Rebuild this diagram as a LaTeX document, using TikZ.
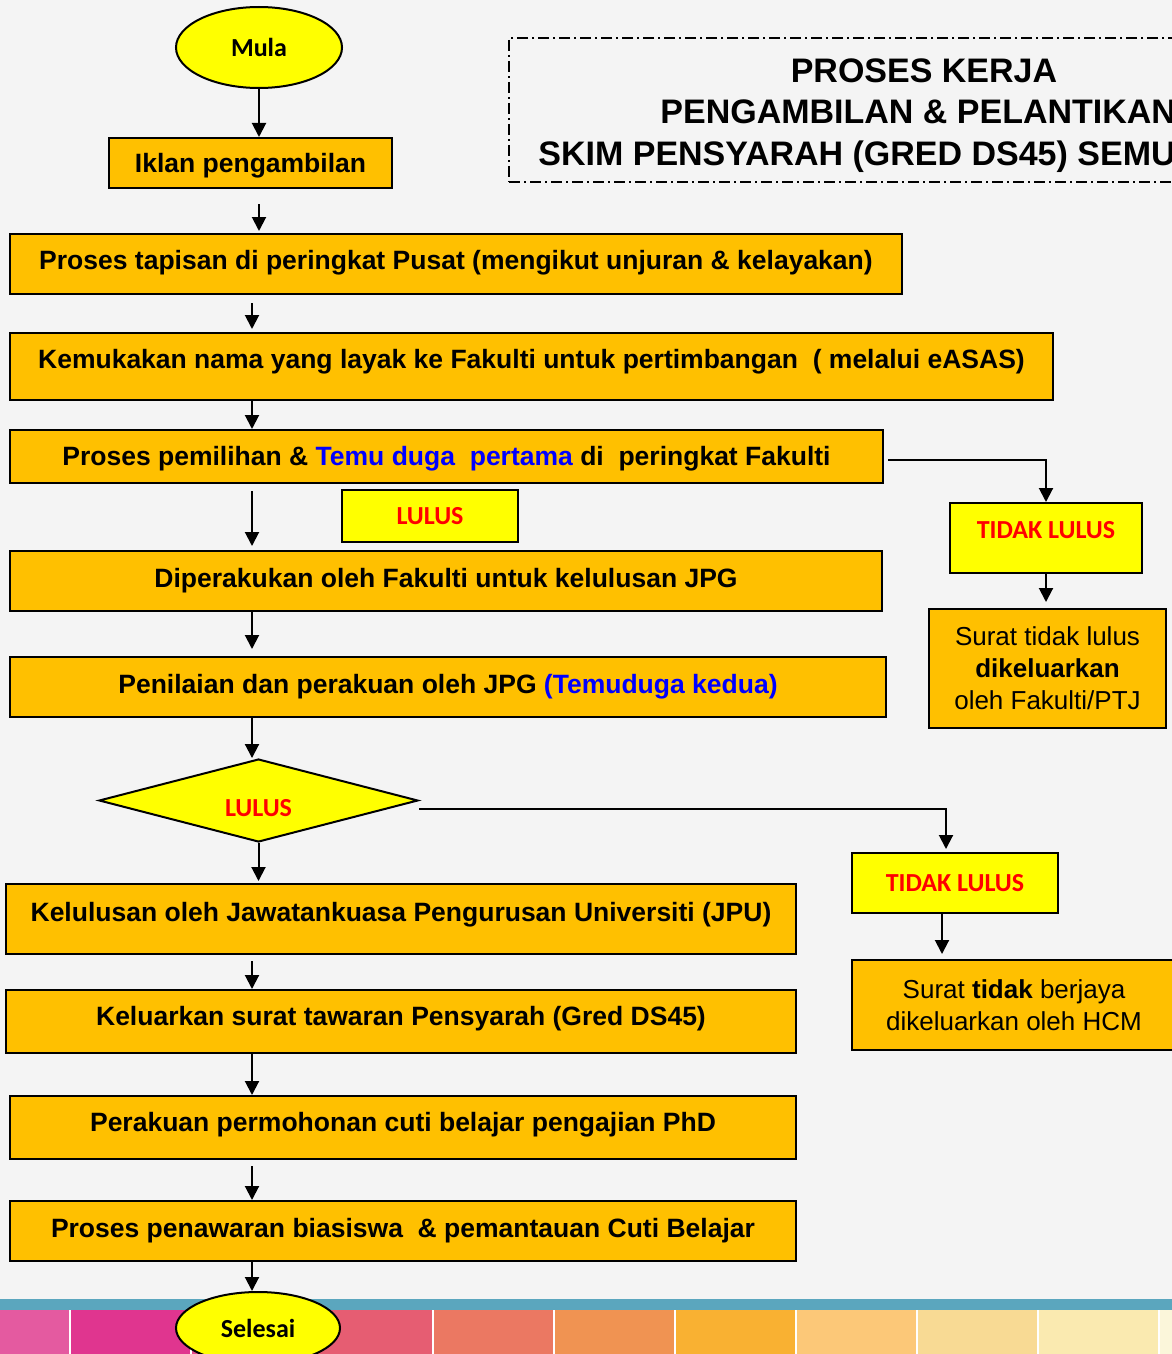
\documentclass[tikz,border=0pt]{standalone}
\usepackage{fontspec}
\setmainfont{Liberation Sans}
\newfontfamily\calfont{Carlito}
\usetikzlibrary{shapes.geometric,arrows.meta}

\definecolor{latar}{HTML}{F4F4F4}
\definecolor{oren}{HTML}{FFC000}
\definecolor{kuningc}{HTML}{FFFF00}
\definecolor{merah}{HTML}{FF0000}
\definecolor{biru}{HTML}{0000FF}
\definecolor{teal}{HTML}{5BA6BE}
\definecolor{jalurA}{HTML}{E45AA0}
\definecolor{jalurB}{HTML}{E0358F}
\definecolor{jalurC}{HTML}{E34A86}
\definecolor{jalurD}{HTML}{E65D72}
\definecolor{jalurE}{HTML}{EB7862}
\definecolor{jalurF}{HTML}{F09352}
\definecolor{jalurG}{HTML}{F9B132}
\definecolor{jalurH}{HTML}{FCC878}
\definecolor{jalurI}{HTML}{F8DA94}
\definecolor{jalurJ}{HTML}{FAEAB0}
\definecolor{jalurK}{HTML}{FBF6DA}

\tikzset{
	kotak/.style={draw, line width=1pt, fill=oren, inner sep=0pt, font=\fontsize{13.25}{15.6}\selectfont\bfseries, text height=9.4pt, text depth=3pt},
	surat/.style={draw, line width=1pt, fill=oren, inner sep=0pt, align=center, font=\fontsize{13}{16}\selectfont},
	kuning/.style={draw, line width=1pt, fill=kuningc, inner sep=0pt, text=merah, font=\calfont\bfseries\fontsize{13}{15.6}\selectfont},
	hujung/.style={ellipse, draw, line width=1pt, fill=kuningc, inner sep=0pt, font=\calfont\bfseries\fontsize{13}{15.6}\selectfont},
	putus/.style={diamond, draw, line width=1pt, fill=kuningc, inner sep=0pt, text=merah, font=\calfont\bfseries\fontsize{13}{15.6}\selectfont},
	tajuk/.style={inner sep=0pt, font=\fontsize{17}{20}\selectfont\bfseries, text height=12.2pt, text depth=0pt},
	anak/.style={-{Triangle[width=7pt,length=7pt]}, line width=1pt},
}

\begin{document}
\begin{tikzpicture}[x=0.5pt, y=-0.5pt]
	\useasboundingbox (0, 0) rectangle (1172, 1354);
	\clip (0, 0) rectangle (1172, 1354);
	\fill[latar] (0, 0) rectangle (1172, 1354);

	% jalur warna di bawah
	\fill[teal] (0, 1299) rectangle (1172, 1310);
	\fill[white] (0, 1310) rectangle (1172, 1354);
	\fill[jalurA] (0, 1310) rectangle (69, 1354);
	\fill[jalurB] (71, 1310) rectangle (190, 1354);
	\fill[jalurC] (192, 1310) rectangle (311, 1354);
	\fill[jalurD] (313, 1310) rectangle (432, 1354);
	\fill[jalurE] (434, 1310) rectangle (553, 1354);
	\fill[jalurF] (555, 1310) rectangle (674, 1354);
	\fill[jalurG] (676, 1310) rectangle (795, 1354);
	\fill[jalurH] (797, 1310) rectangle (916, 1354);
	\fill[jalurI] (918, 1310) rectangle (1037, 1354);
	\fill[jalurJ] (1039, 1310) rectangle (1158, 1354);
	\fill[jalurK] (1160, 1310) rectangle (1172, 1354);

	% tajuk
	\node[draw, line width=0.8pt, dash pattern=on 5.5pt off 2pt on 1pt off 2pt, minimum width=415pt, minimum height=72pt] (tajuk) at (924, 110) {};
	\node[tajuk] (tajuk1) at (924, 70) {PROSES KERJA};
	\node[tajuk, anchor=west] (tajuk2) at (660, 111) {PENGAMBILAN \& PELANTIKAN};
	\node[tajuk, anchor=west] (tajuk3) at (538, 153) {SKIM PENSYARAH (GRED DS45) SEMU};

	% aliran utama
	\node[hujung, minimum width=83pt, minimum height=40.5pt] (mula) at (259, 47.5) {Mula};
	\node[kotak, minimum width=141.5pt, minimum height=25pt, text depth=0pt] (iklan) at (250.5, 163) {Iklan pengambilan};
	\node[kotak, minimum width=446pt, minimum height=30pt, text depth=4pt] (tapis) at (456, 264) {Proses tapisan di peringkat Pusat (mengikut unjuran \& kelayakan)};
	\node[kotak, minimum width=521.5pt, minimum height=33.5pt, text depth=7pt] (kemuka) at (531.5, 366.5) {Kemukakan nama yang layak ke Fakulti untuk pertimbangan\ \ ( melalui eASAS)};
	\node[kotak, minimum width=436.5pt, minimum height=26.5pt, text depth=0pt] (pilih) at (446.5, 456.5) {Proses pemilihan \& \textcolor{biru}{Temu duga\ \ pertama} di\ \ peringkat Fakulti};
	\node[kuning, minimum width=88pt, minimum height=26pt] (lulus1) at (430, 516) {LULUS};
	\node[kotak, minimum width=436pt, minimum height=30pt] (diper) at (446, 581) {Diperakukan oleh Fakulti untuk kelulusan JPG};
	\node[kotak, minimum width=438pt, minimum height=30pt] (nilai) at (448, 687) {Penilaian dan perakuan oleh JPG \textcolor{biru}{(Temuduga kedua)}};
	\node[putus, minimum width=159.5pt, minimum height=37.5pt] (lulus2) at (258.5, 800.5) {\raisebox{-4pt}[8pt][0pt]{LULUS}};
	\node[kotak, minimum width=395pt, minimum height=35pt, text depth=7pt] (jpu) at (401, 919) {Kelulusan oleh Jawatankuasa Pengurusan Universiti (JPU)};
	\node[kotak, minimum width=395pt, minimum height=31.5pt, text depth=5pt] (tawar) at (401, 1021.5) {Keluarkan surat tawaran Pensyarah (Gred DS45)};
	\node[kotak, minimum width=393pt, minimum height=31.5pt, text depth=5pt] (cuti) at (403, 1127.5) {Perakuan permohonan cuti belajar pengajian PhD};
	\node[kotak, minimum width=393pt, minimum height=30pt] (biasiswa) at (403, 1231) {Proses penawaran biasiswa\ \ \& pemantauan Cuti Belajar};
	\node[hujung, minimum width=82pt, minimum height=36pt] (selesai) at (258, 1328) {Selesai};

	% cabang tidak lulus
	\node[kuning, minimum width=96pt, minimum height=35pt] (tidak1) at (1046, 538) {\raisebox{4pt}[8pt][0pt]{TIDAK LULUS}};
	\node[surat, minimum width=118.5pt, minimum height=59.5pt] (surat1) at (1047.5, 668.5) {Surat tidak lulus\\\textbf{dikeluarkan}\\oleh Fakulti/PTJ};
	\node[kuning, minimum width=103pt, minimum height=30pt] (tidak2) at (955, 883) {TIDAK LULUS};
	\node[surat, minimum width=162pt, minimum height=45pt] (surat2) at (1014, 1005) {Surat \textbf{tidak} berjaya\\dikeluarkan oleh HCM};

	% anak panah
	\coordinate (ax) at (252, 0);
	\draw[anak] (mula.south) -- (mula.south |- iklan.north);
	\draw[anak, shorten <=7.5pt, shorten >=1pt] (iklan.south -| mula) -- (mula |- tapis.north);
	\draw[anak, shorten <=4pt, shorten >=1.5pt] (tapis.south -| ax) -- (kemuka.north -| ax);
	\draw[anak] (kemuka.south -| ax) -- (pilih.north -| ax);
	\draw[anak, shorten <=3.5pt, shorten >=2pt] (pilih.south -| ax) -- (diper.north -| ax);
	\draw[anak, shorten >=3.5pt] (diper.south -| ax) -- (nilai.north -| ax);
	\draw[anak] (nilai.south -| ax) -- (ax |- lulus2.north);
	\draw[anak, shorten >=1pt] (lulus2.south) -- (lulus2.south |- jpu.north);
	\draw[anak, shorten <=3pt] (jpu.south -| ax) -- (tawar.north -| ax);
	\draw[anak] (tawar.south -| ax) -- (cuti.north -| ax);
	\draw[anak, shorten <=3pt] (cuti.south -| ax) -- (biasiswa.north -| ax);
	\draw[anak] (biasiswa.south -| ax) -- (ax |- selesai.north);

	\draw[anak, shorten <=2pt] ([yshift=-1.5pt]pilih.east) -| (tidak1.north);
	\draw[anak, shorten >=3pt] (tidak1.south) -- (tidak1.south |- surat1.north);
	\draw[anak, shorten >=1.5pt] ([yshift=-4pt]lulus2.east) -| ([xshift=-4.5pt]tidak2.north);
	\draw[anak, shorten >=2.5pt] ([xshift=-6.5pt]tidak2.south) -- ([xshift=-6.5pt]tidak2.south |- surat2.north);
\end{tikzpicture}
\end{document}
